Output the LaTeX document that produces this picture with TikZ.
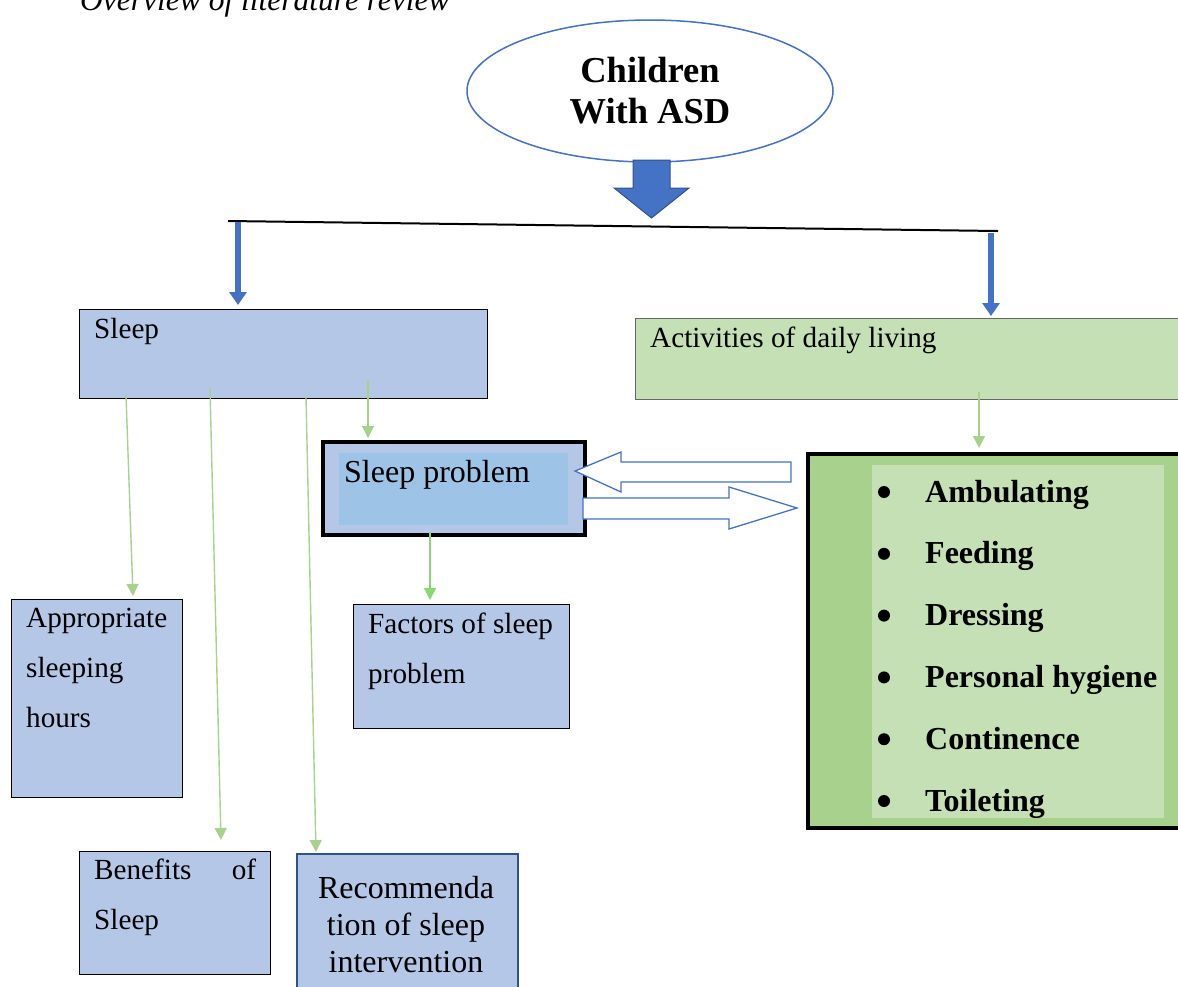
\documentclass[tikz,border=0pt]{standalone}
\usepackage{fontspec}
\setmainfont{Liberation Serif}
\usetikzlibrary{arrows.meta,shapes.geometric,positioning}
\definecolor{sleepblue}{HTML}{B4C7E7}
\definecolor{probblue}{HTML}{9DC3E6}
\definecolor{adlgreen}{HTML}{C5E0B4}
\definecolor{listgreen}{HTML}{A9D18E}
\definecolor{linkgreen}{HTML}{A9D18E}
\definecolor{accent}{HTML}{4472C4}
\definecolor{accentdark}{HTML}{2F528F}
\tikzstyle{topic}=[rectangle, draw=black, line width=1.2pt, fill=sleepblue,
  anchor=north west, inner sep=0pt]
% multi-line texts: base is the last line
\tikzstyle{boxtext}=[anchor=base west, inner sep=0pt, align=left,
  font=\fontsize{29.2}{50}\selectfont]
\tikzstyle{link}=[draw=linkgreen, line width=1.4pt,
  -{Triangle[width=12pt,length=12pt]}]
\tikzstyle{branch}=[draw=accent, line width=6pt,
  -{Triangle[width=17pt,length=13pt]}]
\tikzstyle{hollow}=[draw=accent, fill=white, line width=1.3pt]

\begin{document}
\begin{tikzpicture}[x=1pt, y=-1pt]
  \clip (0,0) rectangle (1178,986);

  \node[anchor=base west, inner sep=0pt,
    font=\fontsize{31.5}{33}\selectfont\itshape] (caption) at (80,10)
    {Overview of literature review};

  % root of the review
  \node[ellipse, draw=accent, line width=1.5pt, fill=white,
    minimum width=366pt, minimum height=142pt, align=center,
    font=\fontsize{36.5}{41}\selectfont\bfseries] (root) at (650,91)
    {Children\\With ASD};
  \filldraw[fill=accent, draw=accentdark, line width=1pt]
    (633,160) -- (670,160) -- (670,188) -- (689,188) -- (651.5,218)
    -- (614,188) -- (633,188) -- cycle;

  \coordinate (barL) at (228,221);
  \coordinate (barR) at (998,231);
  \draw[line width=2pt] (barL) -- (barR);

  % sleep side
  \node[topic, minimum width=408pt, minimum height=89pt] (sleep) at (79,309) {};
  \node[boxtext] (sleeptext) at (94,338) {Sleep};

  \node[topic, line width=4pt, minimum width=262pt, minimum height=93pt]
    (problem) at (321,440) {};
  \node[anchor=north west, fill=probblue, inner sep=0pt,
    minimum width=229pt, minimum height=72pt] (probleminner) at (339,453) {};
  \node[boxtext, font=\fontsize{32}{37}\selectfont] (problemtext) at (344,482)
    {Sleep problem};

  \node[topic, minimum width=171pt, minimum height=198pt] (appropriate) at (11,599) {};
  \node[boxtext] (appropriatetext) at (26,727) {Appropriate\\sleeping\\hours};

  \node[topic, minimum width=216pt, minimum height=124pt] (factors) at (353,604) {};
  \node[boxtext] (factorstext) at (368,683) {Factors of sleep\\problem};

  \node[topic, minimum width=191pt, minimum height=123pt] (benefits) at (79,851) {};
  \node[boxtext] (benefitstext) at (94,929)
    {\makebox[162pt][s]{Benefits\hfill of}\\Sleep};

  \node[topic, draw=accentdark, line width=2pt, minimum width=221pt,
    minimum height=160pt] (recommend) at (296,853) {};
  \node[boxtext, anchor=base, align=center,
    font=\fontsize{32}{37}\selectfont] (recommendtext) at (406,972)
    {Recommenda\\tion of sleep\\intervention};

  % daily living side
  \node[topic, fill=adlgreen, draw=black!60, minimum width=560pt,
    minimum height=81pt] (adl) at (635,318) {};
  \node[boxtext] (adltext) at (650,347) {Activities of daily living};

  \node[topic, fill=listgreen, line width=4pt, minimum width=400pt,
    minimum height=374pt] (adllist) at (806,452) {};
  \node[anchor=north west, fill=adlgreen, inner sep=0pt,
    minimum width=292pt, minimum height=353pt] (adllistinner) at (872,465) {};
  \foreach \activity [count=\i] in {Ambulating, Feeding, Dressing,
      Personal hygiene, Continence, Toileting} {
    \node[circle, fill=black, inner sep=0pt, minimum size=12pt]
      (bullet\i) at (884,{492+61.8*(\i-1)}) {};
    \node[anchor=base west, inner sep=0pt,
      font=\fontsize{32}{32}\selectfont\bfseries]
      (activity\i) at (925,{502+61.8*(\i-1)}) {\activity};
  }

  % connectors
  \coordinate (brL) at (238,222);
  \coordinate (brR) at (991,233);
  \draw[branch, shorten >=4pt] (brL) -- (brL |- sleep.north);
  \draw[branch, shorten >=2pt] (brR) -- (brR |- adl.north);

  \coordinate (s1) at (126,395);
  \coordinate (s2) at (210,388);
  \coordinate (s3) at (306,397);
  \coordinate (s4) at (368,380);
  \coordinate (a1) at (979,392);
  \coordinate (p1) at (430,532);
  \draw[link] (s1) -- ([xshift=122pt,yshift=3pt]appropriate.north west);
  \draw[link] (s2) -- ([xshift=142pt,yshift=11pt]benefits.north west);
  \draw[link] (s3) -- ([xshift=20pt,yshift=1pt]recommend.north west);
  \draw[link, shorten >=2pt] (s4) -- (s4 |- problem.north);
  \draw[link, shorten >=4pt] (a1) -- (a1 |- adllist.north);
  \draw[link, draw=linkgreen!80!green, shorten >=4pt] (p1) -- (p1 |- factors.north);

  % sleep problem <-> daily living
  \draw[hollow] (791,462) -- (621,462) -- (621,452) -- (575,471)
    -- (621,492) -- (621,482) -- (791,482) -- cycle;
  \draw[hollow] (583,498) -- (729,498) -- (729,487) -- (797,508)
    -- (729,529) -- (729,519) -- (583,519) -- cycle;
\end{tikzpicture}
\end{document}
